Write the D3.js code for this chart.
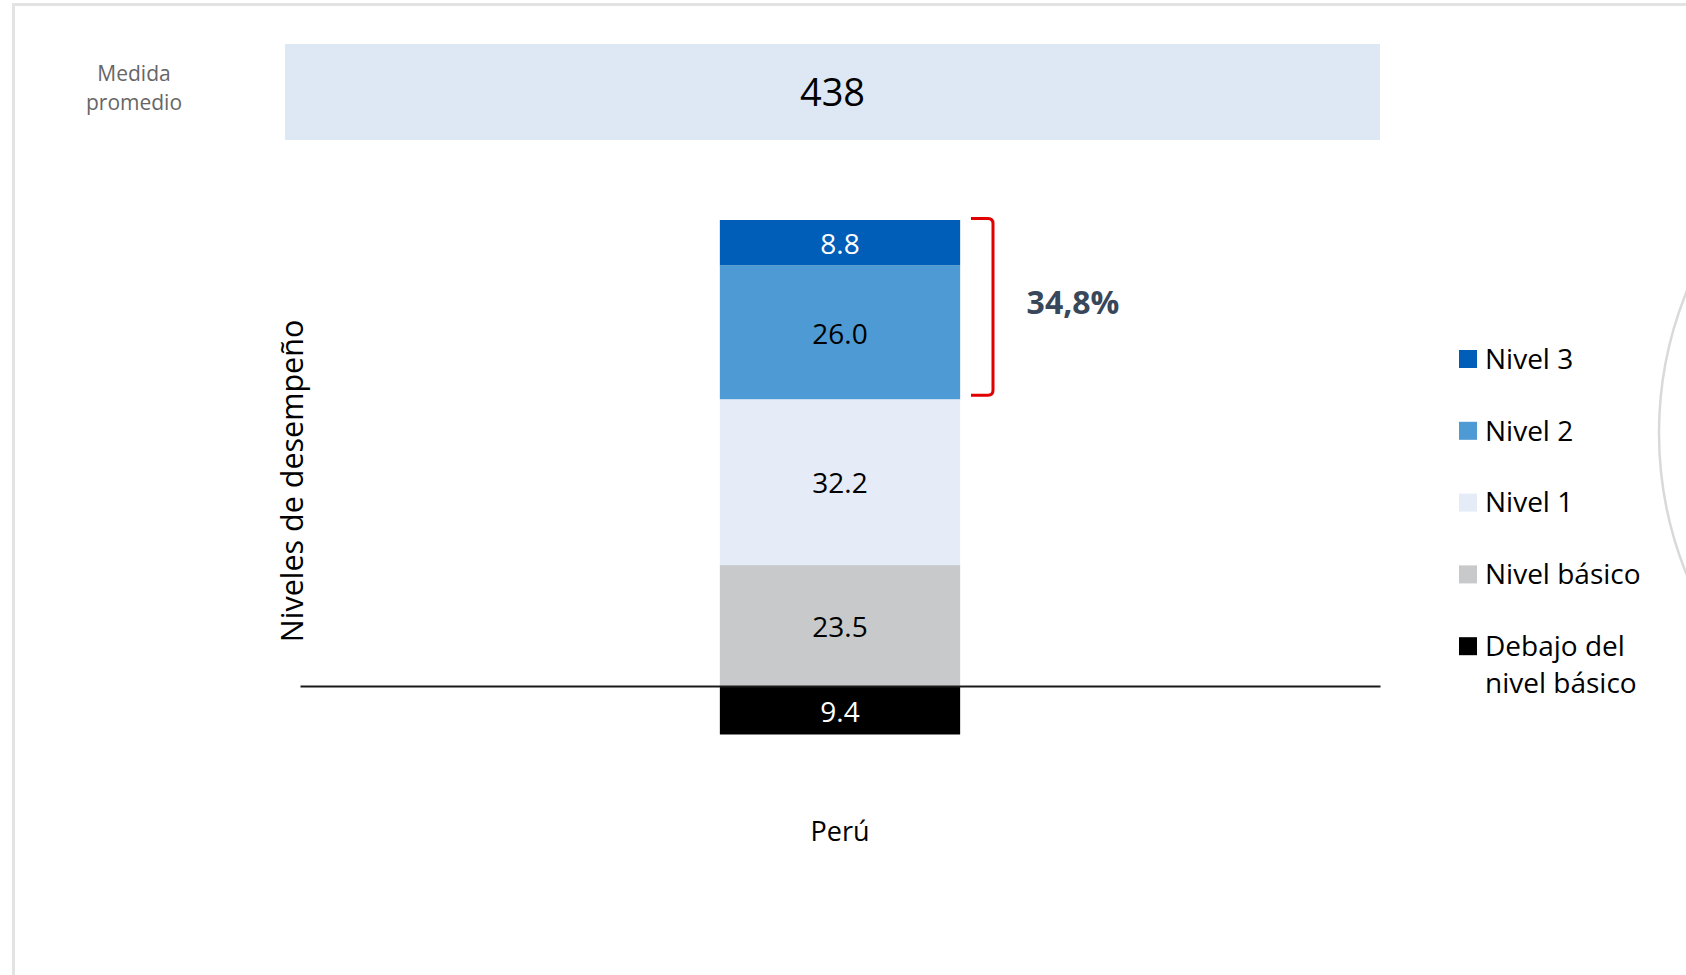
<!DOCTYPE html>
<html>
<head>
<meta charset="utf-8">
<script src="https://cdn.jsdelivr.net/npm/d3@7"></script>
<style>
  body { margin: 0; background: #fff; }
  svg { display: block; font-family: "Open Sans", sans-serif; }
</style>
</head>
<body>
<svg id="chart" width="1686" height="975"></svg>
<script>
// data
const categories = ["Perú"];
const levels = ["Debajo del nivel básico", "Nivel básico", "Nivel 1", "Nivel 2", "Nivel 3"];
const values = [9.4, 23.5, 32.2, 26.0, 8.8];
const belowBase = [true, false, false, false, false];
const average = 438;
const legendLabels = [["Nivel 3"], ["Nivel 2"], ["Nivel 1"], ["Nivel básico"], ["Debajo del", "nivel básico"]];

const colors = ["#000000", "#c8c9cb", "#e6ecf7", "#4e9ad4", "#005eb8"];
const labelColors = ["#fff", "#000", "#000", "#000", "#fff"];

const svg = d3.select("#chart"),
    width = +svg.attr("width"),
    height = +svg.attr("height");

// frame + decorative arc
svg.append("rect")
    .attr("x", 13.5).attr("y", 4.5)
    .attr("width", width + 20).attr("height", height + 20)
    .attr("fill", "none")
    .attr("stroke", "#e3e3e3")
    .attr("stroke-width", 3);

svg.append("circle")
    .attr("cx", 2035).attr("cy", 433).attr("r", 376)
    .attr("fill", "none")
    .attr("stroke", "#d9d9d9")
    .attr("stroke-width", 2.5);

// stacking: negative part below the baseline, the rest above
let pos = 0, neg = 0;
const segs = values.map(function (v, i) {
    let y0, y1;
    if (belowBase[i]) { y1 = neg; y0 = neg - v; neg = y0; }
    else { y0 = pos; y1 = pos + v; pos = y1; }
    return { key: levels[i], value: v, y0: y0, y1: y1, i: i };
});

const x = d3.scaleBand()
    .domain(categories)
    .range([300, 1380])
    .padding(0.636);

const y = d3.scaleLinear()
    .domain([neg, pos])
    .range([734.5, 220]);

// average banner
const bannerX = 285, bannerW = 1095;
svg.append("rect")
    .attr("x", bannerX).attr("y", 44)
    .attr("width", bannerW).attr("height", 96)
    .attr("fill", "#dde8f4");

svg.append("text")
    .attr("x", bannerX + bannerW / 2)
    .attr("y", 93)
    .attr("dy", "0.35em")
    .attr("text-anchor", "middle")
    .style("font-size", "38px")
    .attr("fill", "#000")
    .text(average);

svg.append("text")
    .attr("x", 134).attr("y", 74)
    .attr("text-anchor", "middle")
    .style("font-size", "21px")
    .attr("fill", "#666")
    .selectAll("tspan")
    .data(["Medida", "promedio"])
    .join("tspan")
    .attr("x", 134)
    .attr("dy", (d, i) => i === 0 ? "0.35em" : "1.38em")
    .text(d => d);

// bars
const bars = svg.append("g");
bars.selectAll("rect")
    .data(segs)
    .join("rect")
    .attr("x", x(categories[0]))
    .attr("width", x.bandwidth())
    .attr("y", d => y(d.y1))
    .attr("height", d => y(d.y0) - y(d.y1))
    .attr("fill", d => colors[d.i]);

bars.selectAll("text")
    .data(segs)
    .join("text")
    .attr("x", x(categories[0]) + x.bandwidth() / 2)
    .attr("y", d => (y(d.y0) + y(d.y1)) / 2 + 1.5)
    .attr("dy", "0.35em")
    .attr("text-anchor", "middle")
    .style("font-size", "28px")
    .attr("fill", d => labelColors[d.i])
    .text(d => d3.format(".1f")(d.value));

// baseline (x axis)
const xAxis = svg.append("g")
    .attr("transform", "translate(0," + y(0) + ")")
    .call(d3.axisBottom(x).tickSize(0).tickPadding(136));
xAxis.select(".domain").attr("stroke", "#1a1a1a").attr("stroke-width", 2);
xAxis.selectAll("text")
    .style("font-size", "27px")
    .style("font-family", "'Open Sans', sans-serif")
    .attr("fill", "#000");

// y title
svg.append("text")
    .attr("transform", "translate(292,481) rotate(-90)")
    .attr("dy", "0.35em")
    .attr("text-anchor", "middle")
    .style("font-size", "30.5px")
    .attr("fill", "#000")
    .text("Niveles de desempeño");

// bracket over the top two levels
const upper = segs.filter(d => d.key === "Nivel 3" || d.key === "Nivel 2");
const bTop = y(d3.max(upper, d => d.y1)) - 1.5,
    bBot = y(d3.min(upper, d => d.y0)) - 4,
    bx = 993, bl = 971, rr = 5;
svg.append("path")
    .attr("d", "M" + bl + "," + bTop + "H" + (bx - rr) + "Q" + bx + "," + bTop + " " + bx + "," + (bTop + rr) +
        "V" + (bBot - rr) + "Q" + bx + "," + bBot + " " + (bx - rr) + "," + bBot + "H" + bl)
    .attr("fill", "none")
    .attr("stroke", "#e00000")
    .attr("stroke-width", 3);

const share = d3.sum(upper, d => d.value);
svg.append("text")
    .attr("x", 1073).attr("y", 303)
    .attr("dy", "0.35em")
    .attr("text-anchor", "middle")
    .style("font-size", "32px")
    .style("font-weight", "bold")
    .attr("fill", "#39475a")
    .text(d3.format(".1f")(share).replace(".", ",") + "%");

// legend
const legend = svg.append("g")
    .selectAll("g")
    .data(legendLabels)
    .join("g")
    .attr("transform", (d, i) => "translate(1459," + (350 + i * 71.8) + ")");

legend.append("rect")
    .attr("width", 18).attr("height", 18)
    .attr("fill", (d, i) => colors[colors.length - 1 - i]);

legend.append("text")
    .attr("x", 26).attr("y", 9)
    .style("font-size", "28px")
    .attr("fill", "#000")
    .selectAll("tspan")
    .data(d => d)
    .join("tspan")
    .attr("x", 26)
    .attr("dy", (d, i) => i === 0 ? "0.35em" : "1.32em")
    .text(d => d);
</script>
</body>
</html>
